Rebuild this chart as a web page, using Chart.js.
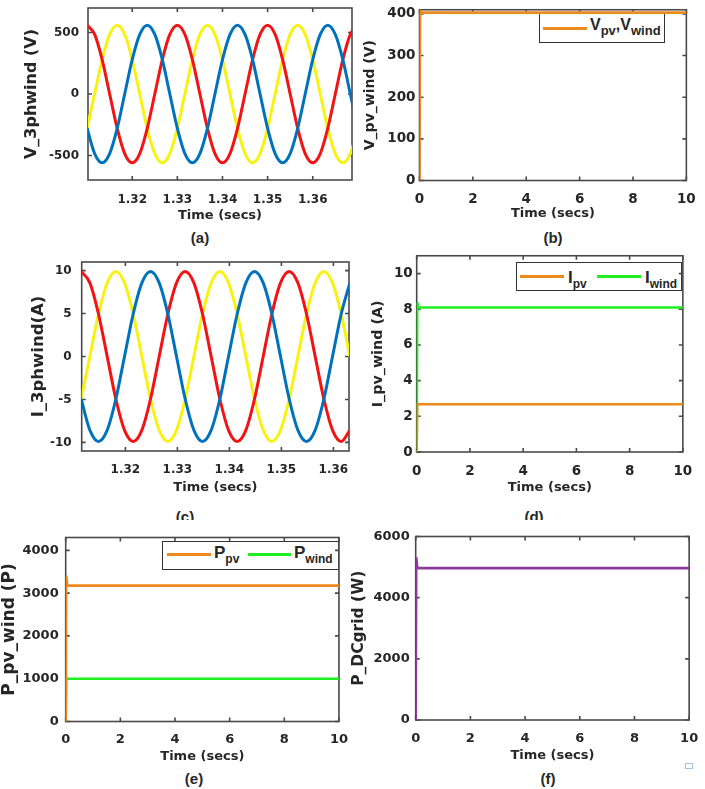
<!DOCTYPE html>
<html>
<head>
<meta charset="utf-8">
<script src="https://cdn.jsdelivr.net/npm/chart.js@4.4.1/dist/chart.umd.min.js"></script>
<style>
  body { margin: 0; background: #fff; }
  #page { position: relative; width: 705px; height: 789px; overflow: hidden; background: #fff; }
  canvas { position: absolute; }
  .lg { position: absolute; box-sizing: border-box; border: 1.5px solid #333; background: #fff; }
  .lg .ln { position: absolute; height: 3px; }
  .lg .tx { position: absolute; font: bold 17px "Liberation Sans", Arial, sans-serif; line-height: 17px; color: #262626; white-space: nowrap; }
  .lg .tx span { font-size: 12px; position: relative; top: 5px; }
  .cap { position: absolute; font: bold 15px "Liberation Sans", Arial, sans-serif; color: #262626; white-space: nowrap; text-align: center; width: 40px; overflow: hidden; }
</style>
</head>
<body>
<div id="page">
  <!-- legends (html so subscripts work) -->
  <div class="lg" style="left:539px;top:13px;width:126px;height:30px;">
    <div class="ln" style="left:3px;top:13px;width:44px;background:#EC8A1E;"></div>
    <div class="tx" style="left:50px;top:2px;font-size:16px;">V<span style="font-size:13px;">pv</span>,V<span style="font-size:13px;">wind</span></div>
  </div>
  <div class="lg" style="left:516px;top:262px;width:166px;height:29px;">
    <div class="ln" style="left:3px;top:12px;width:44px;background:#EC8A1E;"></div>
    <div class="tx" style="left:51px;top:6px;">I<span>pv</span></div>
    <div class="ln" style="left:80px;top:12px;width:44px;background:#1FEF1F;"></div>
    <div class="tx" style="left:128px;top:6px;">I<span>wind</span></div>
  </div>
  <div class="lg" style="left:162px;top:541px;width:177px;height:29px;">
    <div class="ln" style="left:4px;top:11px;width:44px;background:#EC8A1E;"></div>
    <div class="tx" style="left:51px;top:2px;">P<span>pv</span></div>
    <div class="ln" style="left:85px;top:11px;width:43px;background:#1FEF1F;"></div>
    <div class="tx" style="left:131px;top:2px;">P<span>wind</span></div>
  </div>

  <!-- captions -->
  <div class="cap" style="left:180px;top:229px;height:20px;">(a)</div>
  <div class="cap" style="left:533px;top:229px;height:20px;">(b)</div>
  <div class="cap" style="left:165px;top:508px;height:12px;">(c)</div>
  <div class="cap" style="left:514px;top:508px;height:12px;">(d)</div>
  <div class="cap" style="left:174px;top:770px;height:20px;">(e)</div>
  <div class="cap" style="left:528px;top:770px;height:20px;">(f)</div>
  <div style="position:absolute;left:685px;top:763px;width:6px;height:4px;border:1px solid #9ec5e6;"></div>
</div>

<script>
// ============ 数据 ============
// (a) 三相电压，时间轴
const tV3 = [1.31000, 1.31167, 1.31333, 1.31500, 1.31667, 1.31833, 1.32000, 1.32167, 1.32333, 1.32500,
  1.32667, 1.32833, 1.33000, 1.33167, 1.33333, 1.33500, 1.33667, 1.33833, 1.34000, 1.34167,
  1.34333, 1.34500, 1.34667, 1.34833, 1.35000, 1.35167, 1.35333, 1.35500, 1.35667, 1.35833,
  1.36000, 1.36167, 1.36333, 1.36500, 1.36667, 1.36833, 1.37000];
const vaRed = [560, 485, 280, 0, -280, -485, -560, -485, -280, 0, 280, 485,
  560, 485, 280, 0, -280, -485, -560, -485, -280, 0, 280, 485,
  560, 485, 280, 0, -280, -485, -560, -485, -280, 0, 280, 485, 560];
const vaYellow = [-280, 0, 280, 485, 560, 485, 280, 0, -280, -485, -560, -485,
  -280, 0, 280, 485, 560, 485, 280, 0, -280, -485, -560, -485,
  -280, 0, 280, 485, 560, 485, 280, 0, -280, -485, -560, -485, -280];
const vaBlue = [-280, -485, -560, -485, -280, 0, 280, 485, 560, 485, 280, 0,
  -280, -485, -560, -485, -280, 0, 280, 485, 560, 485, 280, 0,
  -280, -485, -560, -485, -280, 0, 280, 485, 560, 485, 280, 0, -280];

// (c) 三相电流
const tI3 = [1.31150, 1.31317, 1.31483, 1.31650, 1.31817, 1.31983, 1.32150, 1.32317, 1.32483, 1.32650,
  1.32817, 1.32983, 1.33150, 1.33317, 1.33483, 1.33650, 1.33817, 1.33983, 1.34150, 1.34317,
  1.34483, 1.34650, 1.34817, 1.34983, 1.35150, 1.35317, 1.35483, 1.35650, 1.35817, 1.35983,
  1.36150, 1.36317];
const iaRed = [9.9, 8.57, 4.95, 0, -4.95, -8.57, -9.9, -8.57, -4.95, 0, 4.95, 8.57,
  9.9, 8.57, 4.95, 0, -4.95, -8.57, -9.9, -8.57, -4.95, 0, 4.95, 8.57,
  9.9, 8.57, 4.95, 0, -4.95, -8.57, -9.9, -8.57];
const iaYellow = [-4.95, 0, 4.95, 8.57, 9.9, 8.57, 4.95, 0, -4.95, -8.57, -9.9, -8.57,
  -4.95, 0, 4.95, 8.57, 9.9, 8.57, 4.95, 0, -4.95, -8.57, -9.9, -8.57,
  -4.95, 0, 4.95, 8.57, 9.9, 8.57, 4.95, 0];
const iaBlue = [-4.95, -8.57, -9.9, -8.57, -4.95, 0, 4.95, 8.57, 9.9, 8.57, 4.95, 0,
  -4.95, -8.57, -9.9, -8.57, -4.95, 0, 4.95, 8.57, 9.9, 8.57, 4.95, 0,
  -4.95, -8.57, -9.9, -8.57, -4.95, 0, 4.95, 8.57];

// (b)(d)(e)(f) 直流量：启动瞬间跳变后稳定
const tStep = [0, 0.02, 0.06, 10];
const vPvWind = [0, 410, 403, 403];
const iPv = [0, 2.7, 2.68, 2.68];
const iWind = [0, 8.4, 8.1, 8.1];
const pPv = [0, 3410, 3175, 3175];
const pWind = [0, 1000, 1000, 1000];
const pDcGrid = [0, 5320, 4965, 4965];

// 刻度
const xTicksSineV = [1.32, 1.33, 1.34, 1.35, 1.36];
const xTicksSineI = [1.32, 1.33, 1.34, 1.35, 1.36];
const xTicksTime = [0, 2, 4, 6, 8, 10];
const yTicksVa = [-500, 0, 500];
const yTicksVdc = [0, 100, 200, 300, 400];
const yTicksIa = [-10, -5, 0, 5, 10];
const yTicksIdc = [0, 2, 4, 6, 8, 10];
const yTicksP = [0, 1000, 2000, 3000, 4000];
const yTicksPgrid = [0, 2000, 4000, 6000];

const C = { blue: '#0072BD', red: '#F21414', yellow: '#F8F212', orange: '#EC8A1E', green: '#1FEF1F', purple: '#8C3B9C' };
const TXT = '#262626';

// ============ 面板布局 ============
// box = [left, top, right, bottom] 绘图区
const panels = [
  { box: [88, 3, 352, 180], yTitleX: 32, xTickY: 200, xTitleY: 215, tickFs: 12, yTitleFs: 16, yPad: 9,
    yTitle: 'V_3phwind (V)', x: [1.3102, 1.3687], y: [-700, 700], xTicks: xTicksSineV, yTicks: yTicksVa, dec: 2, smooth: true,
    series: [[tV3, vaBlue, C.blue], [tV3, vaRed, C.red], [tV3, vaYellow, C.yellow]] },
  { box: [419.5, 9.3, 691.5, 180.5], yTitleX: 370, xTickY: 199.5, xTitleY: 213, tickFs: 13.5, yTitleFs: 14, yPad: 4,
    yTitle: 'V_pv_wind (V)', x: [0, 10], y: [0, 410], xTicks: xTicksTime, yTicks: yTicksVdc, dec: 0,
    series: [[tStep, vPvWind, C.orange]] },
  { box: [81.7, 256, 349, 451], yTitleX: 38, xTickY: 470, xTitleY: 487.3, tickFs: 12, yTitleFs: 16.5, yPad: 10,
    yTitle: 'I_3phwind(A)', x: [1.3116, 1.3630], y: [-11, 11], xTicks: xTicksSineI, yTicks: yTicksIa, dec: 2, smooth: true,
    series: [[tI3, iaBlue, C.blue], [tI3, iaRed, C.red], [tI3, iaYellow, C.yellow]] },
  { box: [416.7, 255.3, 689, 452], yTitleX: 378, xTickY: 471.5, xTitleY: 487.3, tickFs: 13.5, yTitleFs: 14.3, yPad: 4,
    yTitle: 'I_pv_wind (A)', x: [0, 10], y: [0, 11], xTicks: xTicksTime, yTicks: yTicksIdc, dec: 0,
    series: [[tStep, iPv, C.orange], [tStep, iWind, C.green]] },
  { box: [65.7, 534.3, 344.3, 721.5], yTitleX: 9, xTickY: 740, xTitleY: 756, tickFs: 13, yTitleFs: 17, yPad: 7,
    yTitle: 'P_pv_wind (P)', x: [0, 10], y: [0, 4300], xTicks: xTicksTime, yTicks: yTicksP, dec: 0,
    series: [[tStep, pPv, C.orange], [tStep, pWind, C.green]] },
  { box: [415.7, 534.3, 694.3, 720], yTitleX: 359, xTickY: 738.3, xTitleY: 755, tickFs: 13, yTitleFs: 15.5, yPad: 6,
    yTitle: 'P_DCgrid (W)', x: [0, 10], y: [0, 6000], xTicks: xTicksTime, yTicks: yTicksPgrid, dec: 0,
    series: [[tStep, pDcGrid, C.purple]] },
];

// MATLAB 风格外框 + 向内刻度
const matlabBox = {
  id: 'matlabBox',
  beforeDatasetsDraw(chart) {
    const { ctx, chartArea: a, scales: { x, y } } = chart;
    ctx.save();
    ctx.strokeStyle = '#4a4a4a';
    ctx.lineWidth = 1.6;
    ctx.strokeRect(a.left, a.top, a.right - a.left, a.bottom - a.top);
    ctx.beginPath();
    x.ticks.forEach(t => {
      const p = x.getPixelForValue(t.value);
      ctx.moveTo(p, a.bottom); ctx.lineTo(p, a.bottom - 4);
      ctx.moveTo(p, a.top); ctx.lineTo(p, a.top + 4);
    });
    y.ticks.forEach(t => {
      const p = y.getPixelForValue(t.value);
      ctx.moveTo(a.left, p); ctx.lineTo(a.left + 4, p);
      ctx.moveTo(a.right, p); ctx.lineTo(a.right - 4, p);
    });
    ctx.stroke();
    ctx.restore();
  }
};

const page = document.getElementById('page');
const font = size => ({ family: '"DejaVu Sans", sans-serif', weight: 'bold', size, lineHeight: 1 });

function makePanel(p) {
  const [l, t, r, b] = p.box;
  const left = Math.round(p.yTitleX - p.yTitleFs / 2);
  const top = Math.round(t - 10);
  const bottom = Math.round(p.xTitleY + 6.5);
  const w = Math.round(r - left + 16);
  const h = bottom - top;
  const cv = document.createElement('canvas');
  cv.width = w; cv.height = h;
  cv.style.left = left + 'px'; cv.style.top = top + 'px';
  page.appendChild(cv);

  const yW = l - left;
  const xH = bottom - b;
  const datasets = p.series.map(([tx, ty, col]) => ({
    data: tx.map((v, i) => ({ x: v, y: ty[i] })),
    borderColor: col, borderWidth: p.smooth ? 3 : 2.6, pointRadius: 0,
    cubicInterpolationMode: p.smooth ? 'monotone' : 'default', tension: 0,
  }));

  new Chart(cv, {
    type: 'line',
    data: { datasets },
    options: {
      responsive: false, animation: false, devicePixelRatio: 1,
      layout: { padding: { left: 0, top: t - top, right: w - (r - left), bottom: 0 } },
      plugins: { legend: { display: false }, tooltip: { enabled: false } },
      scales: {
        x: {
          type: 'linear', min: p.x[0], max: p.x[1],
          grid: { display: false, drawTicks: false }, border: { display: false },
          afterBuildTicks: s => { s.ticks = p.xTicks.map(v => ({ value: v })); },
          afterFit: s => { s.height = xH; },
          ticks: { padding: p.xTickY - b - p.tickFs / 2, color: TXT, font: font(p.tickFs), maxRotation: 0, autoSkip: false,
                   callback: v => v.toFixed(p.dec) },
          title: { display: true, text: 'Time (secs)', color: TXT, padding: 0, font: font(13) }
        },
        y: {
          type: 'linear', min: p.y[0], max: p.y[1],
          grid: { display: false, drawTicks: false }, border: { display: false },
          afterBuildTicks: s => { s.ticks = p.yTicks.map(v => ({ value: v })); },
          afterFit: s => { s.width = yW; },
          ticks: { padding: p.yPad, color: TXT, font: font(p.tickFs), autoSkip: false, callback: v => String(v) },
          title: { display: true, text: p.yTitle, color: TXT, padding: 0, font: font(p.yTitleFs) }
        }
      }
    },
    plugins: [matlabBox]
  });
}

panels.forEach(makePanel);
</script>
</body>
</html>
